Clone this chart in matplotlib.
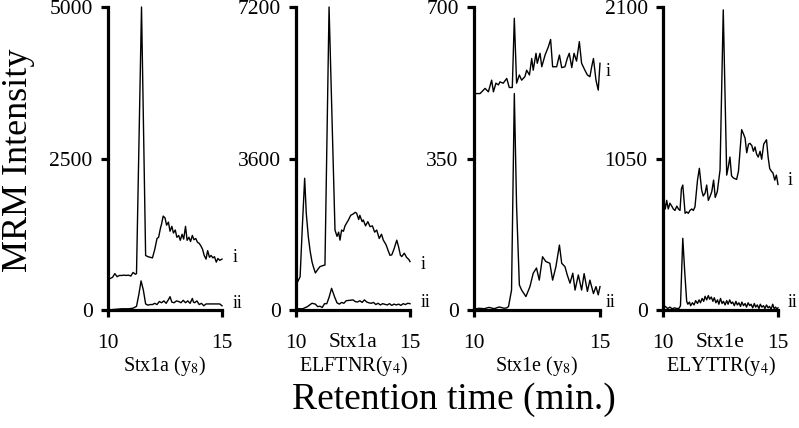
import matplotlib.pyplot as plt

plt.rcParams['font.family'] = ['Liberation Serif', 'DejaVu Serif']
plt.rcParams['mathtext.fontset'] = 'stix'

# (retention time, intensity)
stx1a_y8_i = [(10.0, 510), (10.1, 520), (10.2, 540), (10.3, 600), (10.4, 550), (10.5, 570), (10.6, 570),
              (10.7, 575), (10.8, 570), (10.9, 575), (11.0, 560), (11.1, 620), (11.2, 590), (11.25, 600),
              (11.47, 5000), (11.65, 900), (11.75, 880), (11.85, 870), (11.95, 860), (12.05, 1000),
              (12.15, 1180), (12.22, 1200), (12.3, 1350), (12.35, 1420), (12.42, 1550), (12.5, 1520),
              (12.57, 1400), (12.65, 1450), (12.72, 1300), (12.8, 1380), (12.87, 1270), (12.95, 1320),
              (13.02, 1200), (13.1, 1230), (13.17, 1150), (13.25, 1250), (13.32, 1170), (13.4, 1380),
              (13.47, 1150), (13.55, 1200), (13.62, 1130), (13.7, 1230), (13.77, 1160), (13.85, 1180),
              (13.92, 1120), (14.0, 1100), (14.07, 1060), (14.15, 1000), (14.22, 900), (14.3, 840),
              (14.37, 980), (14.45, 870), (14.52, 900), (14.6, 860), (14.67, 880), (14.75, 790),
              (14.82, 850), (14.9, 820), (15.0, 840)]
stx1a_y8_ii = [(10.0, 0), (10.3, 10), (10.6, 20), (10.9, 20), (11.1, 30), (11.25, 60), (11.35, 250),
               (11.45, 480), (11.55, 330), (11.65, 100), (11.75, 80), (11.85, 90), (11.95, 90), (12.05, 110),
               (12.15, 90), (12.25, 140), (12.35, 120), (12.45, 150), (12.55, 110), (12.65, 170), (12.72, 220),
               (12.8, 130), (12.9, 120), (13.0, 150), (13.1, 140), (13.2, 120), (13.3, 160), (13.4, 120),
               (13.5, 150), (13.6, 110), (13.7, 190), (13.75, 130), (13.8, 120), (13.9, 150), (14.0, 90),
               (14.1, 110), (14.2, 70), (14.3, 100), (14.5, 100), (14.7, 100), (14.9, 100), (15.0, 70)]

elftnr_y4_i = [(10.0, 600), (10.1, 700), (10.18, 790), (10.28, 2000), (10.38, 3130), (10.45, 2300),
               (10.54, 1740), (10.62, 1400), (10.7, 1150), (10.76, 1030), (10.85, 880), (10.95, 960),
               (11.05, 1030), (11.15, 1050), (11.27, 1070), (11.45, 7200), (11.71, 1900), (11.8, 1750),
               (11.87, 1850), (11.93, 1660), (12.0, 1900), (12.08, 1870), (12.15, 2000), (12.3, 2140),
               (12.4, 2250), (12.5, 2280), (12.6, 2320), (12.66, 2300), (12.75, 2150), (12.8, 2250),
               (12.9, 2100), (12.95, 2140), (13.05, 2000), (13.15, 2100), (13.25, 1980), (13.35, 2000),
               (13.45, 1850), (13.54, 1900), (13.65, 1700), (13.75, 1800), (13.83, 1660), (13.95, 1550),
               (14.05, 1400), (14.12, 1300), (14.2, 1310), (14.3, 1450), (14.42, 1660), (14.5, 1500),
               (14.58, 1300), (14.64, 1270), (14.75, 1350), (14.85, 1250), (14.95, 1200), (15.0, 1150)]
elftnr_y4_ii = [(10.0, 30), (10.3, 30), (10.5, 80), (10.7, 160), (10.85, 140), (10.95, 80), (11.05, 90),
                (11.15, 60), (11.25, 150), (11.35, 150), (11.45, 300), (11.56, 515), (11.7, 300), (11.8, 170),
                (11.9, 140), (12.0, 180), (12.1, 160), (12.2, 220), (12.35, 230), (12.5, 240), (12.6, 200),
                (12.7, 190), (12.8, 220), (12.9, 180), (13.0, 240), (13.1, 190), (13.2, 170), (13.3, 160),
                (13.4, 180), (13.5, 130), (13.6, 160), (13.7, 120), (13.8, 150), (14.0, 120), (14.1, 150),
                (14.2, 110), (14.3, 140), (14.4, 120), (14.5, 140), (14.6, 110), (14.7, 150), (14.8, 130),
                (14.9, 160), (15.0, 150)]

stx1e_y8_i = [(10.0, 500), (10.1, 500), (10.24, 500), (10.44, 512), (10.57, 504), (10.7, 531), (10.77, 504),
              (10.87, 524), (10.97, 520), (11.03, 527), (11.16, 524), (11.3, 535), (11.4, 514), (11.52, 514),
              (11.6, 674), (11.69, 524), (11.8, 543), (11.89, 531), (12.02, 539), (12.09, 554), (12.2, 543),
              (12.29, 581), (12.35, 554), (12.46, 593), (12.51, 570), (12.62, 593), (12.69, 562), (12.82, 589),
              (12.95, 608), (13.04, 625), (13.12, 562), (13.28, 562), (13.39, 589), (13.48, 560), (13.61, 562),
              (13.7, 581), (13.78, 593), (13.88, 560), (13.97, 593), (14.07, 575), (14.18, 620), (14.27, 570),
              (14.4, 554), (14.5, 543), (14.6, 539), (14.67, 562), (14.74, 581), (14.84, 531), (14.93, 508),
              (15.0, 570)]
stx1e_y8_ii = [(10.0, 2), (10.2, 4), (10.4, 3), (10.6, 6), (10.8, 3), (11.0, 7), (11.2, 4), (11.3, 5),
               (11.37, 8), (11.49, 46), (11.6, 500), (11.69, 239), (11.8, 58), (11.89, 46), (12.06, 31),
               (12.22, 54), (12.35, 85), (12.48, 97), (12.59, 69), (12.72, 123), (12.85, 112), (13.01, 108),
               (13.12, 69), (13.25, 100), (13.39, 150), (13.48, 108), (13.61, 100), (13.7, 81), (13.81, 62),
               (13.92, 85), (14.01, 46), (14.14, 81), (14.27, 46), (14.37, 84), (14.5, 43), (14.6, 69),
               (14.74, 38), (14.84, 54), (14.93, 35), (15.0, 54)]

elyttr_y4_i = [(10.0, 700), (10.04, 762), (10.1, 700), (10.16, 760), (10.23, 700), (10.3, 740), (10.38, 720),
               (10.45, 700), (10.52, 690), (10.6, 720), (10.67, 700), (10.74, 690), (10.8, 840), (10.86, 866),
               (10.92, 750), (10.96, 670), (11.03, 680), (11.1, 670), (11.17, 690), (11.25, 700), (11.32, 690),
               (11.39, 715), (11.5, 900), (11.58, 982), (11.68, 832), (11.75, 790), (11.83, 810), (11.9, 866),
               (11.97, 760), (12.04, 785), (12.12, 820), (12.2, 900), (12.27, 780), (12.36, 820), (12.48, 970),
               (12.62, 2080), (12.77, 935), (12.84, 993), (12.91, 1060), (12.98, 930), (13.06, 915),
               (13.13, 910), (13.2, 905), (13.28, 960), (13.42, 1250), (13.5, 1220), (13.57, 1190),
               (13.64, 1090), (13.72, 1150), (13.78, 1155), (13.86, 1140), (13.93, 1100), (14.0, 1130),
               (14.07, 1080), (14.14, 1060), (14.22, 1100), (14.29, 1045), (14.38, 1150), (14.5, 1180),
               (14.57, 1060), (14.64, 980), (14.72, 960), (14.78, 950), (14.86, 900), (14.93, 935), (15.0, 870)]
elyttr_y4_ii = [(10.0, 15), (10.1, 25), (10.2, 10), (10.3, 20), (10.4, 8), (10.5, 15), (10.6, 10), (10.7, 12),
                (10.76, 30), (10.86, 497), (10.95, 250), (11.03, 60), (11.08, 40), (11.15, 55), (11.2, 30),
                (11.28, 50), (11.35, 35), (11.42, 65), (11.5, 45), (11.57, 70), (11.63, 50), (11.7, 80),
                (11.77, 60), (11.83, 95), (11.9, 70), (11.97, 100), (12.03, 75), (12.1, 90), (12.17, 60),
                (12.23, 85), (12.3, 50), (12.37, 70), (12.43, 40), (12.5, 80), (12.57, 45), (12.63, 60),
                (12.7, 35), (12.77, 65), (12.83, 40), (12.9, 70), (12.97, 45), (13.03, 55), (13.1, 30),
                (13.17, 60), (13.23, 35), (13.3, 50), (13.37, 25), (13.43, 55), (13.5, 30), (13.57, 45),
                (13.63, 20), (13.7, 50), (13.77, 30), (13.83, 40), (13.9, 15), (13.97, 45), (14.03, 20),
                (14.1, 35), (14.17, 10), (14.23, 40), (14.3, 20), (14.37, 30), (14.43, 10), (14.5, 35),
                (14.57, 15), (14.63, 25), (14.7, 5), (14.77, 40), (14.83, 10), (14.9, 20), (14.95, 5), (15.0, 15)]

y_max = [5000, 7200, 700, 2100]
protein = ['', 'Stx1a', '', 'Stx1e']
peptide = ['Stx1a (y$_8$)', 'ELFTNR(y$_4$)', 'Stx1e (y$_8$)', 'ELYTTR(y$_4$)']
traces = [(stx1a_y8_i, stx1a_y8_ii), (elftnr_y4_i, elftnr_y4_ii),
          (stx1e_y8_i, stx1e_y8_ii), (elyttr_y4_i, elyttr_y4_ii)]
label_y = [(860, 100), (1090, 190), (550, 18), (900, 55)]

W, H = 799, 428
boxes = [(108, 222), (296, 410), (474, 600), (663, 778)]
top, bot = 7, 310
label_dx = [8, 8, 4, 7]

fig = plt.figure(figsize=(W / 100, H / 100), dpi=100)

for k in range(4):
    l, r = boxes[k]
    ax = fig.add_axes([l / W, (H - bot) / H, (r - l) / W, (bot - top) / H])
    for tr in traces[k]:
        t, v = zip(*tr)
        ax.plot(t, v, color='black', lw=1.0, clip_on=False)
    ax.set_xlim(10, 15)
    ax.set_ylim(0, y_max[k])
    ax.set_xticks([10, 15])
    ax.set_yticks([0, y_max[k] / 2, y_max[k]])
    ax.set_yticklabels([0, int(y_max[k] / 2), y_max[k]])
    for s in ['top', 'right']:
        ax.spines[s].set_visible(False)
    for s in ['left', 'bottom']:
        ax.spines[s].set_linewidth(2.3)
    ax.tick_params(axis='both', width=2.3, length=5, labelsize=15.5)
    ax.tick_params(axis='x', pad=12)
    ax.tick_params(axis='y', pad=6)
    ax.text(0.5, -0.106, protein[k], transform=ax.transAxes, ha='center', va='center', fontsize=15.5)
    ax.text(0.5, -0.185, peptide[k], transform=ax.transAxes, ha='center', va='center', fontsize=14.5)
    for name, yv in zip(['i', 'ii'], label_y[k]):
        ax.annotate(name, xy=(1, yv), xycoords=('axes fraction', 'data'), xytext=(label_dx[k], 0),
                    textcoords='offset points', ha='left', va='center', fontsize=13)

fig.text(19 / W, 1 - 160 / H, 'MRM Intensity', rotation=90, ha='center', va='center', fontsize=26)
fig.text(454 / W, 1 - 400 / H, 'Retention time (min.)', ha='center', va='center', fontsize=27)

fig.savefig('out.png', dpi=100)
